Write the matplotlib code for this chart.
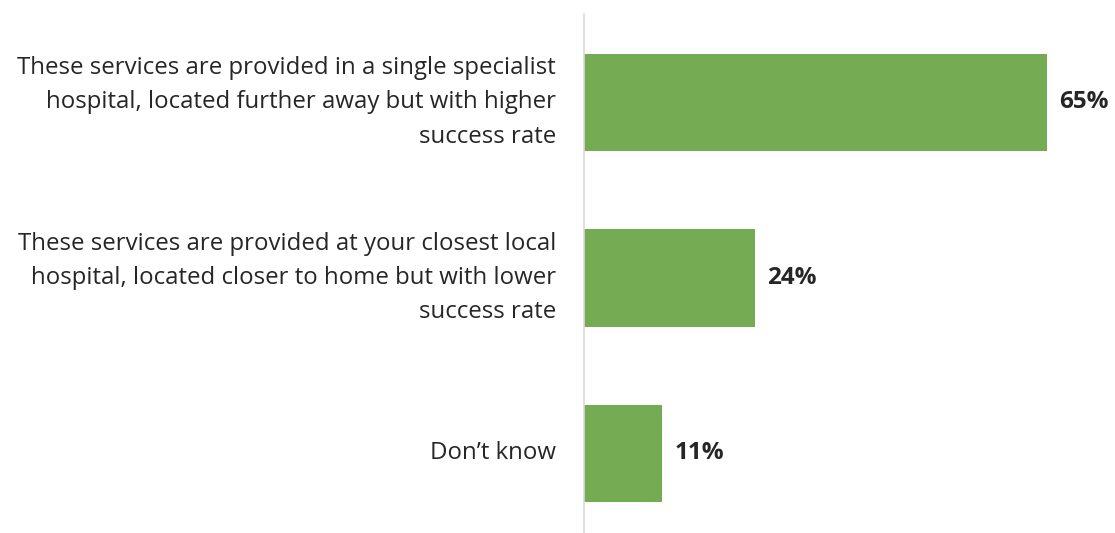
import matplotlib.pyplot as plt

plt.rcParams['font.family'] = ['Open Sans', 'DejaVu Sans']

labels = [
    "These services are provided in a single specialist\nhospital, located further away but with higher\nsuccess rate",
    "These services are provided at your closest local\nhospital, located closer to home but with lower\nsuccess rate",
    "Don\u2019t know",
]
values = [65, 24, 11]

bar_color = '#75ab52'
text_color = '#262626'

fig = plt.figure(figsize=(11.15, 5.33), dpi=100)
ax = fig.add_axes([584 / 1115, 0, 1 - 584 / 1115, 1 - 14 / 533])

ypos = range(len(values))
ax.barh(ypos, values, height=0.553, color=bar_color)

ax.set_xlim(0, (1115 - 584) / (463 / 65))
ax.set_ylim(2.453, -0.504)

for y, v in zip(ypos, values):
    ax.annotate(f"{v}%", (v, y), xytext=(9, 0), textcoords='offset points',
                va='center', ha='left', fontsize=17.5, fontweight='bold', color=text_color)

for y, lab in zip(ypos, labels):
    ax.annotate(lab, (0, y), xytext=(-20, 0), textcoords='offset points',
                va='center', ha='right', multialignment='right',
                fontsize=17.3, color=text_color, linespacing=1.56)

for s in ['top', 'right', 'bottom']:
    ax.spines[s].set_visible(False)
ax.spines['left'].set_color('#d9d9d9')
ax.spines['left'].set_linewidth(1.2)
ax.set_xticks([])
ax.set_yticks([])

fig.savefig('out.png', dpi=100)
